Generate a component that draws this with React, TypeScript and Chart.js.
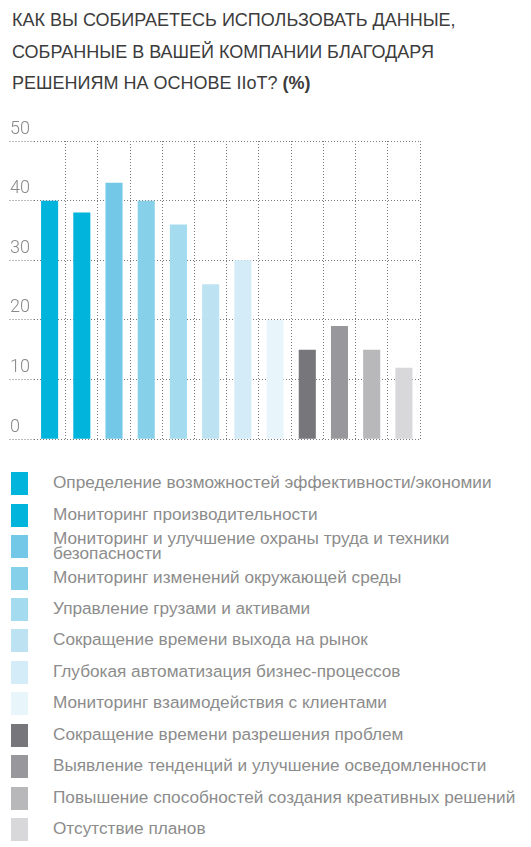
import { useEffect, useRef } from 'react';
import { Chart, registerables } from 'chart.js';

Chart.register(...registerables);

// Values (%)
const categories = [
  'Определение возможностей эффективности/экономии',
  'Мониторинг производительности',
  'Мониторинг и улучшение охраны труда и техники безопасности',
  'Мониторинг изменений окружающей среды',
  'Управление грузами и активами',
  'Сокращение времени выхода на рынок',
  'Глубокая автоматизация бизнес-процессов',
  'Мониторинг взаимодействия с клиентами',
  'Сокращение времени разрешения проблем',
  'Выявление тенденций и улучшение осведомленности',
  'Повышение способностей создания креативных решений',
  'Отсутствие планов',
];
const values = [40, 38, 43, 40, 36, 26, 30, 20, 15, 19, 15, 12];
const barColors = [
  '#00b4dc', '#00b4dc', '#72c8e6', '#86d0ea', '#a4dbef', '#bde3f2',
  '#d3ecf7', '#e8f5fb', '#76767b', '#98989c', '#b8b8bb', '#d8d8da',
];
const yTicks = [0, 10, 20, 30, 40, 50];

const titleLines = [
  'КАК ВЫ СОБИРАЕТЕСЬ ИСПОЛЬЗОВАТЬ ДАННЫЕ,',
  'СОБРАННЫЕ В ВАШЕЙ КОМПАНИИ БЛАГОДАРЯ',
  'РЕШЕНИЯМ НА ОСНОВЕ IIoT?',
];

const gridColor = '#7a7a7a';

const App: React.FC = () => {
  const chartRef = useRef<HTMLCanvasElement>(null);
  const chartInstanceRef = useRef<Chart | null>(null);

  useEffect(() => {
    if (!chartRef.current) return;
    const ctx = chartRef.current.getContext('2d');
    if (!ctx) return;

    chartInstanceRef.current = new Chart(ctx, {
      type: 'bar',
      data: {
        labels: categories,
        datasets: [
          {
            data: values,
            backgroundColor: barColors,
            borderWidth: 0,
            categoryPercentage: 1,
            barPercentage: 0.53,
          },
        ],
      },
      options: {
        responsive: false,
        animation: false,
        layout: { padding: { left: 10, right: 20, top: 41, bottom: 8 } },
        plugins: {
          legend: { display: false },
          tooltip: { enabled: false },
        },
        scales: {
          x: {
            border: { display: false, dash: [1, 2] },
            ticks: { display: false },
            grid: {
              offset: true,
              drawTicks: false,
              lineWidth: 1,
              // no line on the left edge of the first category
              color: (c: any) => (c.index === 0 ? 'rgba(0,0,0,0)' : gridColor),
            },
          },
          y: {
            min: 0,
            max: 50,
            afterFit: (scale: any) => {
              scale.width = 23.5;
            },
            afterBuildTicks: (scale: any) => {
              scale.ticks = yTicks.map((v) => ({ value: v }));
            },
            border: { display: false, dash: [1, 2] },
            ticks: {
              crossAlign: 'far',
              padding: 0,
              labelOffset: -12,
              color: '#8a8a8a',
              font: { family: 'Roboto', size: 18, weight: 300 },
            },
            grid: {
              color: gridColor,
              lineWidth: 1,
              tickLength: 24,
              tickColor: gridColor,
              tickBorderDash: [1, 2],
            },
          },
        },
      },
    });

    return () => {
      if (chartInstanceRef.current) {
        chartInstanceRef.current.destroy();
        chartInstanceRef.current = null;
      }
    };
  }, []);

  return (
    <div
      style={{
        position: 'absolute',
        left: 0,
        top: 0,
        width: 531,
        height: 847,
        background: '#fff',
        fontFamily: '"Liberation Sans", Arial, sans-serif',
      }}
    >
      {/* Title */}
      <div
        style={{
          position: 'absolute',
          left: 12,
          top: 5,
          fontSize: 18,
          lineHeight: '31.5px',
          color: '#3c3c3c',
          whiteSpace: 'nowrap',
        }}
      >
        {titleLines.map((line, i) => (
          <div key={i}>
            {line}
            {i === titleLines.length - 1 && <b> (%)</b>}
          </div>
        ))}
      </div>

      <canvas
        ref={chartRef}
        width={440}
        height={350}
        style={{ position: 'absolute', left: 0, top: 100, width: 440, height: 350 }}
      />

      {/* Legend */}
      <div style={{ position: 'absolute', left: 11, top: 468, width: 520 }}>
        {categories.map((label, i) => (
          <div
            key={label}
            style={{ display: 'flex', alignItems: 'center', height: 31.45 }}
          >
            <div style={{ width: 17, height: 23, background: barColors[i], flexShrink: 0 }} />
            <div
              style={{
                marginLeft: 25,
                marginTop: -2,
                fontSize: 17.2,
                lineHeight: '15px',
                color: '#8c8c8c',
                width: i === 2 ? 420 : undefined,
                whiteSpace: i === 2 ? 'normal' : 'nowrap',
              }}
            >
              {label}
            </div>
          </div>
        ))}
      </div>
    </div>
  );
};

export default App;
